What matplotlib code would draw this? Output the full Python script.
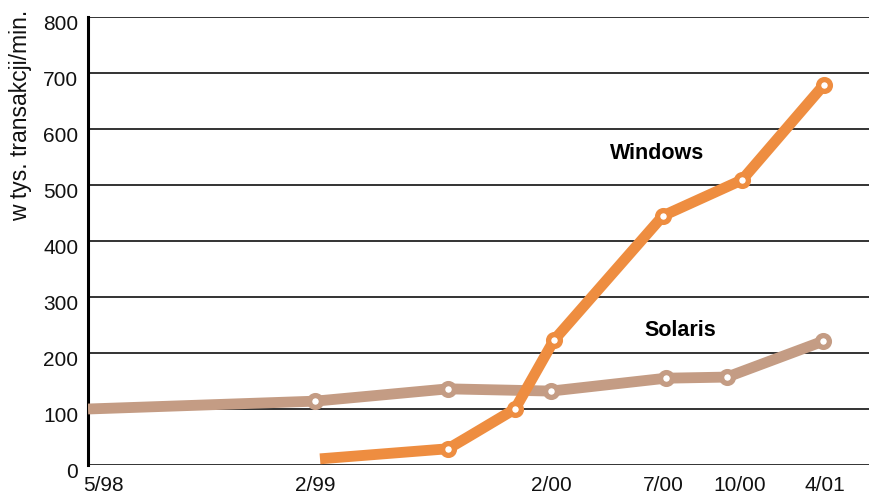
"""Transaction throughput chart: Windows vs Solaris."""

import matplotlib

matplotlib.use("Agg")
import matplotlib.pyplot as mplt
import matplotlib.transforms as mtrans
from matplotlib import rcParams

rcParams.update(
    {
        "font.family": ["Liberation Sans", "DejaVu Sans"],
        "font.size": 15,
    }
)

# positions along the time axis (5/98 = 0)
solaris_x = [0, 227, 360, 463, 578, 639, 735]
solaris_y = [100, 114, 136, 132, 155, 157, 221]
solaris_mark = [False, True, True, True, True, True, True]

windows_x = [232, 360, 380, 427, 466, 575, 654, 736]
windows_y = [11, 29, 50, 100, 223, 445, 509, 679]
windows_mark = [False, True, False, True, True, True, True, True]

tick_pos = [0, 227, 463, 575, 652, 737]
tick_labels = ["5/98", "2/99", "2/00", "7/00", "10/00", "4/01"]
yticks = [0, 100, 200, 300, 400, 500, 600, 700, 800]

col_win = "#ee8d40"
col_sol = "#c49c84"


def draw_series(ax, xs, ys, marks, color, cap):
    """."""
    ax.plot(xs, ys, color=color, lw=7.8, solid_capstyle=cap,
            solid_joinstyle="round", zorder=3)
    mx = [x for x, m in zip(xs, marks) if m]
    my = [y for y, m in zip(ys, marks) if m]
    ax.plot(mx, my, "o", ms=8.5, mfc="white", mec=color, mew=3.8, zorder=4)


fig = mplt.figure(figsize=(8.69, 4.96), dpi=100)
ax = fig.add_axes([88 / 869, 31 / 496, 1 - 88 / 869, 448 / 496])

ax.set_xlim(0, 781)
ax.set_ylim(0, 800)

for yv in yticks:
    ax.axhline(yv, color="#333333", lw=1.4, zorder=1)

draw_series(ax, solaris_x, solaris_y, solaris_mark, col_sol, "butt")
draw_series(ax, windows_x, windows_y, windows_mark, col_win, "butt")

ax.text(569, 556, "Windows", fontsize=15.5, fontweight="bold", ha="center",
        va="center")
ax.text(592, 240, "Solaris", fontsize=15.5, fontweight="bold", ha="center",
        va="center")

for side in ("top", "right", "bottom"):
    ax.spines[side].set_visible(False)
ax.spines["left"].set_linewidth(2.2)
ax.spines["left"].set_color("black")

ax.set_yticks(yticks)
ax.set_xticks(tick_pos)
ax.set_xticklabels(tick_labels)
ax.tick_params(axis="both", length=0, labelsize=15, colors="#111111")
ax.tick_params(axis="y", pad=7)
ax.tick_params(axis="x", pad=8)

shift = mtrans.ScaledTranslation(0, -6 / 100, fig.dpi_scale_trans)
for lab in ax.get_yticklabels():
    lab.set_transform(lab.get_transform() + shift)
first = ax.get_xticklabels()[0]
first.set_horizontalalignment("left")
first.set_transform(first.get_transform()
                    + mtrans.ScaledTranslation(-5 / 100, 0,
                                               fig.dpi_scale_trans))

fig.text(21 / 869, 1 - 115 / 496, "w tys. transakcji/min.", rotation=90,
         ha="center", va="center", fontsize=16.5, color="#111111")

fig.savefig("out.png", dpi=100)
